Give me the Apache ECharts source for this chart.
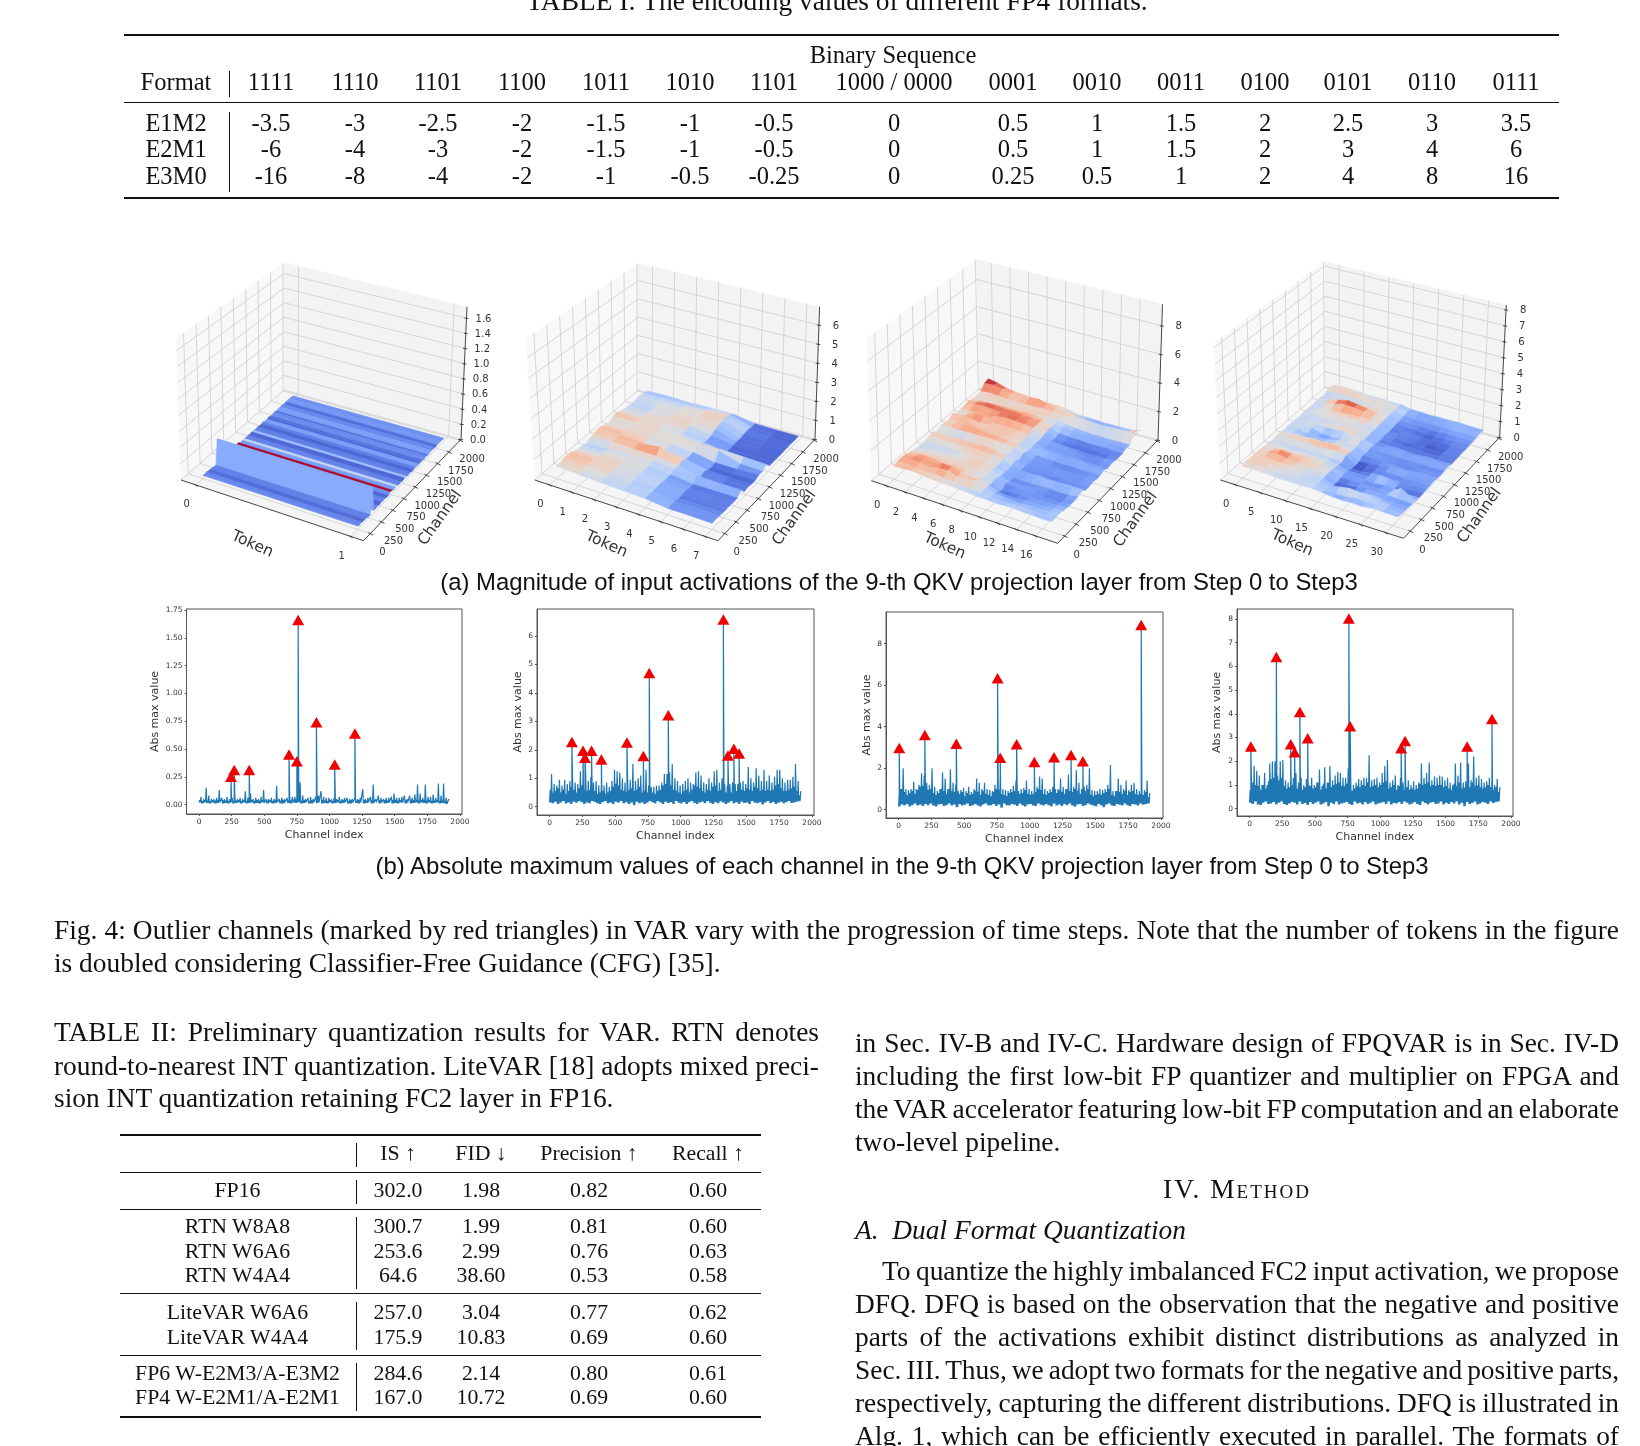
<!DOCTYPE html>
<html><head><meta charset="utf-8">
<style>
html,body{margin:0;padding:0;background:#fff;width:1640px;height:1446px;overflow:hidden}
#chart{position:absolute;left:0;top:0;width:1640px;height:1446px}
.t{position:absolute;color:#111;font-family:"Liberation Serif",serif;line-height:1.2}
.c{white-space:pre;transform:translate(-50%,-50%)}
.l{white-space:pre;transform:translateY(-50%)}
.r{position:absolute;background:#111}
</style>
<script src="https://cdn.jsdelivr.net/npm/echarts@6/dist/echarts.min.js"></script>
</head><body>
<div id="chart"></div>
<script>
// ---------- text content ----------
const tableTitle = "TABLE I: The encoding values of different FP4 formats.";
const table1Super = "Binary Sequence";
const table1Head = ["Format","1111","1110","1101","1100","1011","1010","1101","1000 / 0000","0001","0010","0011","0100","0101","0110","0111"];
const table1Rows = [
 ["E1M2","-3.5","-3","-2.5","-2","-1.5","-1","-0.5","0","0.5","1","1.5","2","2.5","3","3.5"],
 ["E2M1","-6","-4","-3","-2","-1.5","-1","-0.5","0","0.5","1","1.5","2","3","4","6"],
 ["E3M0","-16","-8","-4","-2","-1","-0.5","-0.25","0","0.25","0.5","1","2","4","8","16"]];
const table2Head = ["","IS ↑","FID ↓","Precision ↑","Recall ↑"];
const table2Rows = [
 ["FP16","302.0","1.98","0.82","0.60"],
 ["RTN W8A8","300.7","1.99","0.81","0.60"],
 ["RTN W6A6","253.6","2.99","0.76","0.63"],
 ["RTN W4A4","64.6","38.60","0.53","0.58"],
 ["LiteVAR W6A6","257.0","3.04","0.77","0.62"],
 ["LiteVAR W4A4","175.9","10.83","0.69","0.60"],
 ["FP6 W-E2M3/A-E3M2","284.6","2.14","0.80","0.61"],
 ["FP4 W-E2M1/A-E2M1","167.0","10.72","0.69","0.60"]];
const captionA = "(a) Magnitude of input activations of the 9-th QKV projection layer from Step 0 to Step3";
const captionB = "(b) Absolute maximum values of each channel in the 9-th QKV projection layer from Step 0 to Step3";
const figLines = ["Fig. 4: Outlier channels (marked by red triangles) in VAR vary with the progression of time steps. Note that the number of tokens in the figure",
 "is doubled considering Classifier-Free Guidance (CFG) [35]."];
const table2Caption = ["TABLE II: Preliminary quantization results for VAR. RTN denotes",
 "round-to-nearest INT quantization. LiteVAR [18] adopts mixed preci-",
 "sion INT quantization retaining FC2 layer in FP16."];
const rightLines = ["in Sec. IV-B and IV-C. Hardware design of FPQVAR is in Sec. IV-D",
 "including the first low-bit FP quantizer and multiplier on FPGA and",
 "the VAR accelerator featuring low-bit FP computation and an elaborate",
 "two-level pipeline."];
const sectionHead = "IV. Method";
const subHead = "A.  Dual Format Quantization";
const paraLines = ["To quantize the highly imbalanced FC2 input activation, we propose",
 "DFQ. DFQ is based on the observation that the negative and positive",
 "parts of the activations exhibit distinct distributions as analyzed in",
 "Sec. III. Thus, we adopt two formats for the negative and positive parts,",
 "respectively, capturing the different distributions. DFQ is illustrated in",
 "Alg. 1, which can be efficiently executed in parallel. The formats of"];

// ---------- line chart values (low / band top / low / peak per 20 channels) ----------
const high1 = [.07,.05,.15,.08,.05,.05,.06,.13,.06,.05,.07,.05,.06,.07,.05,.06,.05,.12,.06,.1,.05,.06,.05,.07,.13,.05,.05,.06,.05,.17,.05,.06,.05,.06,.07,.07,.07,.26,.2,.08,.05,.06,.07,.05,.07,.08,.12,.07,.06,.06,.05,.06,.05,.07,.05,.06,.06,.05,.05,.06,.05,.06,.14,.05,.06,.07,.18,.05,.08,.06,.05,.06,.06,.07,.1,.06,.06,.07,.08,.05,.08,.06,.09,.18,.1,.06,.18,.07,.07,.09,.06,.19,.08,.19,.06,.05];
const low1 = [.02,.01,.02,.015,.01,.02,.01,.015,.02,.01,.015,.01,.02,.01,.015,.02,.01,.02,.01,.015,.02,.01,.015,.01,.02,.015,.01,.02,.01,.015,.02,.01,.01,.02,.015,.01,.02,.015,.02,.01,.015,.02,.01,.01,.02,.015,.02,.01,.015,.01,.02,.01,.015,.02,.01,.015,.02,.01,.01,.02,.015,.01,.02,.01,.015,.02,.01,.015,.02,.01,.02,.01,.015,.02,.01,.015,.01,.02,.015,.01,.02,.01,.015,.02,.01,.02,.015,.01,.02,.01,.015,.02,.01,.015,.01,.005];
const mid1 = [.04,.03,.04,.035,.03,.04,.035,.04,.03,.04,.035,.03,.04,.03,.035,.04,.03,.04,.03,.035,.04,.03,.04,.035,.04,.03,.035,.04,.03,.04,.03,.035,.04,.03,.04,.035,.045,.05,.04,.03,.04,.035,.03,.04,.035,.04,.03,.04,.035,.03,.04,.03,.035,.04,.03,.04,.035,.03,.04,.03,.035,.04,.03,.04,.035,.03,.04,.03,.035,.04,.03,.04,.035,.03,.04,.04,.035,.04,.03,.04,.035,.045,.04,.04,.035,.04,.04,.035,.04,.03,.035,.04,.03,.035,.03,.02];
const high2 = [1.15,.8,.75,.95,.75,.95,.8,.9,1.0,.85,.8,1.25,1.0,1.2,.9,1.05,.85,.9,.75,.8,.75,.85,.7,.9,1.3,1.25,1.2,1.0,.85,.9,.95,1.5,.9,1.0,1.1,.85,1.3,.75,.7,.7,.75,.75,.85,1.15,1.15,1.2,1.5,1.0,.9,.75,.8,.9,1.0,.85,.8,1.2,1.25,1.1,.85,.8,1.0,.85,1.25,1.3,.85,1.0,.8,.75,.8,.85,.8,.8,.85,.9,.8,1.4,1.0,.85,1.35,1.1,.9,1.3,.9,1.1,.85,1.05,1.3,1.3,1.0,.85,.95,.95,1.05,1.5,.9,.55];
const low2 = [.15,.12,.18,.1,.15,.2,.12,.15,.1,.18,.14,.2,.16,.1,.15,.12,.2,.17,.12,.1,.16,.2,.12,.15,.1,.18,.14,.2,.12,.16,.1,.15,.05,.18,.12,.15,.1,.14,.2,.16,.12,.2,.15,.1,.18,.13,.16,.1,.2,.14,.12,.17,.1,.16,.2,.13,.1,.15,.18,.12,.2,.14,.1,.16,.12,.19,.15,.1,.14,.2,.12,.16,.1,.18,.13,.15,.1,.2,.14,.12,.16,.08,.15,.2,.12,.17,.1,.14,.18,.12,.16,.2,.13,.15,.18,.2];
const mid2 = [.6,.5,.55,.65,.5,.6,.45,.55,.7,.6,.5,.65,.75,.6,.55,.6,.5,.55,.45,.5,.55,.45,.5,.55,.7,.8,.75,.6,.55,.5,.6,.65,.55,.6,.7,.5,.55,.5,.45,.5,.45,.55,.6,.75,.8,.7,.75,.6,.55,.5,.45,.55,.6,.5,.6,.75,.7,.65,.55,.5,.6,.55,.7,.75,.55,.6,.5,.5,.55,.5,.45,.55,.5,.6,.55,.65,.6,.55,.7,.65,.55,.6,.55,.6,.55,.6,.75,.8,.65,.55,.55,.6,.65,.7,.55,.4];
const high3 = [1.0,2.0,1.0,.95,1.0,1.35,1.0,1.2,1.75,1.65,1.3,1.2,2.0,1.1,.9,1.0,1.8,1.5,1.0,1.95,1.3,1.2,.9,.95,1.05,.9,1.1,.85,1.0,1.5,1.3,1.0,1.3,1.0,.95,.9,1.2,1.55,1.5,1.0,.95,.9,1.0,1.15,1.4,.9,1.0,1.05,1.4,1.0,.9,1.0,1.1,1.6,1.5,1.0,.9,1.0,1.1,1.0,1.0,1.5,1.1,1.0,1.7,1.25,1.1,1.9,1.3,1.0,1.1,1.2,2.0,.95,.9,.9,1.0,.95,1.0,1.2,2.15,.9,.9,1.5,1.2,1.0,1.4,.95,1.2,1.3,1.0,.9,1.0,.95,1.4,.8];
const low3 = [.15,.25,.2,.28,.15,.22,.3,.2,.25,.18,.28,.22,.3,.2,.15,.25,.28,.18,.22,.3,.2,.25,.12,.28,.2,.24,.3,.18,.22,.28,.2,.15,.25,.3,.2,.22,.28,.18,.25,.1,.3,.22,.2,.28,.24,.18,.3,.22,.15,.25,.28,.2,.18,.3,.24,.2,.28,.22,.15,.3,.2,.25,.18,.28,.22,.3,.2,.14,.25,.28,.18,.22,.3,.24,.2,.15,.28,.22,.12,.25,.3,.2,.18,.28,.24,.2,.3,.22,.18,.28,.25,.2,.3,.24,.28,.3];
const mid3 = [.8,1.0,.85,.7,.8,.9,.75,.95,1.1,1.15,.9,.95,1.0,.8,.7,.8,1.0,.9,.75,1.0,.9,.85,.7,.75,.85,.65,.8,.7,.75,.9,.85,.7,.9,.75,.7,.65,.85,1.0,.95,.75,.7,.65,.8,.85,.9,.7,.75,.8,.95,.75,.7,.75,.85,1.0,.95,.75,.7,.8,.85,.75,.8,.95,.85,.75,1.0,.9,.85,1.0,.9,.75,.85,.9,1.0,.7,.65,.7,.75,.7,.8,.85,1.0,.7,.65,.9,.85,.75,.9,.7,.85,.9,.75,.7,.75,.7,.85,.6];
const high4 = [.9,1.8,1.6,1.4,1.0,1.5,1.0,1.9,2.0,2.0,1.4,2.0,2.05,1.2,1.1,1.25,1.3,1.5,1.1,1.3,1.0,1.25,1.0,1.3,1.0,1.1,1.65,.95,1.75,1.1,1.8,1.2,1.4,1.55,1.5,1.3,1.3,1.7,1.0,1.0,1.1,1.25,1.2,1.3,1.3,2.25,1.2,1.25,1.3,1.1,1.5,1.8,2.05,1.1,1.2,1.4,1.0,1.3,1.1,1.0,1.2,1.0,1.15,1.0,1.1,1.9,1.3,1.5,1.95,1.2,1.35,1.3,1.4,1.35,1.2,1.3,1.1,1.0,1.9,1.4,1.95,1.1,1.15,1.9,1.2,2.2,1.3,1.4,1.25,1.1,1.15,1.3,1.25,1.0,1.25,.9];
const low4 = [.25,.2,.3,.18,.15,.25,.3,.2,.22,.28,.18,.25,.3,.2,.15,.22,.28,.25,.18,.3,.2,.24,.15,.28,.2,.25,.3,.18,.22,.28,.1,.25,.2,.3,.18,.22,.25,.28,.2,.15,.3,.22,.25,.18,.28,.2,.24,.3,.18,.22,.25,.28,.2,.3,.18,.24,.22,.28,.2,.3,.25,.18,.22,.28,.2,.15,.3,.24,.18,.25,.28,.2,.22,.3,.18,.25,.2,.28,.22,.3,.18,.25,.1,.28,.2,.24,.3,.18,.22,.28,.25,.2,.3,.24,.28,.3];
const mid4 = [.8,1.1,1.0,.95,.8,1.0,.85,1.15,1.25,1.3,1.1,1.2,1.3,.95,.85,.9,1.0,1.1,.85,.95,.8,.9,.8,.95,.85,.9,1.1,.8,1.05,.85,1.1,.9,1.0,1.05,1.1,.95,.95,1.05,.8,.75,.85,.95,.9,1.0,.95,1.1,.9,.95,1.0,.9,1.0,1.1,1.15,.85,.9,1.0,.8,.95,.85,.8,.9,.8,.85,.8,.85,1.05,1.0,1.05,1.1,.95,1.0,.95,1.0,1.0,.9,.95,.85,.8,1.05,.95,1.1,.85,.9,1.05,.9,1.1,.95,1.0,.9,.85,.9,1.0,.9,.8,.9,.7];
const outliers1 = [[245,.25],[270,.31],[385,.31],[690,.45],[750,.39],[760,1.66],[900,.74],[1040,.36],[1195,.64]];
const outliers2 = [[170,2.28],[255,1.97],[270,1.72],[320,1.97],[395,1.66],[590,2.26],[715,1.78],[760,4.7],[905,3.22],[1325,6.58],[1360,1.8],[1405,2.04],[1445,1.87]];
const outliers3 = [[5,2.97],[200,3.6],[440,3.17],[755,6.33],[775,2.5],[900,3.15],[1035,2.3],[1185,2.53],[1315,2.63],[1405,2.33],[1850,8.9]];
const outliers4 = [[10,2.62],[205,6.4],[315,2.72],[345,2.38],[385,4.08],[445,2.97],[760,8.02],[770,3.48],[1160,2.55],[1190,2.85],[1665,2.62],[1855,3.78]];
const xTicks2d = [0,250,500,750,1000,1250,1500,1750,2000];
const yTicks1 = [0,.25,.5,.75,1,1.25,1.5,1.75];
const yTicks2 = [0,1,2,3,4,5,6];
const yTicks3 = [0,2,4,6,8];
const yTicks4 = [0,1,2,3,4,5,6,7,8];

// ---------- surface values: row = channel 0,80,...,1920 ; column = token ----------
const surfChannels = [0,80,160,240,320,400,480,560,640,720,800,880,960,1040,1120,1200,1280,1360,1440,1520,1600,1680,1760,1840,1920];
const surf1Channels = [0,40,80,120,160,200,240,280,320,360,400,440,480,520,560,600,640,680,720,760,800,840,880,920,960,1000,1040,1080,1120,1160,1200,1240,1280,1320,1360,1400,1440,1480,1520,1560,1600,1640,1680,1720,1760,1800,1840,1880,1920];
const surf1Heights = [.04,.03,.04,.03,.03,.03,.02,.02,.33,.03,.03,.04,.03,.04,.03,.04,.03,.03,.05,.05,.03,.04,.04,.03,.04,.03,.04,.04,.03,.04,.03,.03,.04,.03,.03,.04,.03,.03,.04,.03,.04,.04,.04,.03,.04,.04,.04,.04,.03];
const surf1Levels = [.14,.14,.07,.07,.12,.12,.12,.24,.22,.13,.13,.06,.06,.13,.13,.06,.06,.16,1.0,.16,.2,.42,.13,.13,.06,.06,.3,.12,.12,.06,.06,.12,.2,.2,.08,.08,.15,.15,.07,.2,.2,.14,.14,.08,.18,.18,.16,.16];
const surf2Tokens = [0,1,2,3,4,5,6,7];
const surf2 = [
[1.2,1.0,.9,.8,.7,.4,.4,.35],[1.1,1.0,.9,.8,.8,.4,.4,.4],[1.3,1.2,1.0,.8,.7,.35,.4,.35],[1.3,1.25,1.1,.85,.7,.3,.3,.3],[1.25,1.3,1.0,.9,.8,.25,.2,.3],
[1.0,1.2,1.1,.9,.6,.4,.35,.3],[.9,1.0,1.15,.9,.7,.2,.25,.25],[.8,.9,1.1,.8,.6,.3,.3,.3],[.7,.8,1.0,1.0,.9,.9,.8,.8],[1.0,1.3,1.2,1.2,.8,.25,.2,.2],
[1.1,1.2,1.5,1.9,1.0,.5,.3,.3],[1.3,1.4,1.2,1.0,.8,.25,.15,.2],[1.2,1.3,1.0,.9,.7,.15,.15,.2],[1.0,1.2,1.1,1.0,.8,.3,.3,.4],[.8,1.0,1.1,1.0,1.3,1.4,.5,.4],
[1.2,1.3,1.0,1.1,.9,1.0,.9,.8],[1.3,1.2,1.0,.9,.7,.25,.2,.2],[1.0,1.0,1.2,.9,.6,.2,.15,.2],[.9,1.0,1.2,1.1,.7,.2,.2,.2],[.8,.9,1.1,1.2,1.0,.25,.2,.15],
[.7,.9,1.0,1.1,1.1,.2,.2,.2],[.8,1.0,1.1,1.0,1.2,.3,.2,.2],[.9,.9,.9,1.2,1.3,.35,.2,.2],[.7,.8,.8,.9,1.1,.25,.15,.15],[.6,.7,.6,.7,.7,.25,.2,.2]];
const surf3Tokens = [0,1,2,3,4,5,6,7,8,9,10,11,12,13,14,15,16,17];
const surf3 = [
[1.7,1.8,1.9,1.7,1.6,1.5,1.5,1.4,1.3,1.2,1.2,1.1,1.2,1.2,1.1,1.1,1.0,1.1],
[1.9,2.0,1.8,1.7,1.8,1.6,1.5,1.4,1.3,1.2,1.1,1.0,1.0,1.1,1.1,1.0,1.0,1.1],
[2.0,2.2,2.1,1.9,2.2,2.3,1.7,1.9,2.1,1.3,1.0,.9,.8,.8,.9,.9,1.0,1.2],
[1.9,2.1,2.3,2.0,2.4,2.3,1.8,1.7,1.6,1.2,.7,.5,.6,.7,.8,.7,.9,1.0],
[1.7,1.9,2.0,1.8,1.7,1.8,1.6,1.5,1.4,1.2,.3,.4,.6,.6,.7,.7,.8,.9],
[1.5,1.6,1.6,1.7,1.6,1.7,1.7,1.6,1.4,1.3,.9,.8,.8,.7,.6,.6,.6,.8],
[1.4,1.4,1.5,1.5,1.6,1.6,1.8,1.7,1.5,1.0,.6,.6,.7,.6,.7,.4,.6,.8],
[1.3,1.3,1.4,1.4,1.4,1.5,1.7,1.7,1.4,.9,.7,.6,.6,.7,.7,.6,.7,.9],
[1.4,1.5,1.3,1.3,1.5,1.6,1.6,1.5,1.3,.8,.8,1.0,1.1,1.2,1.1,1.1,1.2,1.2],
[1.6,1.7,1.6,1.7,1.7,1.9,1.8,1.8,1.5,1.0,.7,.6,.7,.6,.6,.7,.7,.7],
[1.7,1.8,1.8,1.9,1.9,1.9,2.0,1.8,1.6,1.2,.7,.6,.6,.5,.6,.6,.5,.7],
[1.3,1.2,.9,1.0,1.3,1.4,1.2,1.1,1.3,.8,.7,.7,.7,.8,.8,.7,.8,.8],
[1.7,1.8,1.8,1.9,1.9,2.0,2.0,1.9,1.7,1.2,.6,.7,.6,.5,.5,.6,.6,.7],
[1.6,1.9,2.1,2.2,2.1,2.0,1.9,1.8,1.6,1.0,.8,.7,.7,.6,.7,.6,.7,.7],
[1.5,1.7,1.8,1.7,1.6,1.7,1.7,1.5,1.4,.9,1.1,1.1,1.0,.9,1.0,1.0,.9,1.0],
[2.0,2.1,2.0,1.8,1.9,2.0,1.9,2.0,1.7,1.0,.6,.6,.5,.6,.6,.5,.5,.6],
[1.4,1.5,2.4,2.3,1.7,1.6,1.7,1.6,1.5,.9,.8,.9,.9,.8,.7,.7,.8,.8],
[1.6,1.8,1.7,1.6,2.2,2.4,2.3,2.2,2.1,1.0,.7,.6,.5,.5,.4,.5,.5,.7],
[1.7,2.3,2.5,2.4,2.3,2.4,2.4,2.2,2.0,1.2,.6,.5,.4,.4,.5,.4,.5,.6],
[1.8,2.1,2.4,2.4,2.3,2.3,2.2,2.1,2.1,1.3,.8,.7,.7,.6,.6,.7,.6,.6],
[1.6,1.7,1.7,1.8,1.8,1.8,1.9,1.8,1.5,1.2,1.3,1.1,1.0,1.1,1.0,1.0,.9,.9],
[1.5,1.5,1.6,1.6,1.5,1.7,1.5,1.6,1.5,1.5,1.1,.9,.8,.7,.7,.7,.8,.8],
[1.7,1.9,1.8,1.7,1.6,1.7,1.8,1.9,1.8,1.6,1.9,2.0,2.0,1.9,1.9,2.0,2.1,2.2],
[2.6,2.7,2.4,2.1,1.9,2.3,2.5,2.1,1.9,1.6,1.7,1.0,1.0,.9,1.1,1.0,1.2,2.1],
[2.8,2.5,2.0,1.8,1.7,1.6,1.5,1.5,1.5,1.3,.9,.9,.9,.8,.9,.9,1.0,1.3]];
const surf4Tokens = [0,2,4,6,8,10,12,14,16,18,20,22,24,26,28,31];
const surf4 = [
[1.6,1.7,1.6,1.5,1.4,1.5,1.4,1.5,1.3,1.1,1.0,1.1,1.0,1.3,1.2,1.1],
[1.9,1.8,1.7,1.5,1.6,1.4,1.5,1.4,1.0,.9,1.0,1.2,1.1,1.4,1.2,1.0],
[1.8,2.0,1.9,1.7,1.5,1.6,1.3,1.4,1.1,1.6,1.9,1.7,1.5,1.3,1.1,.9],
[1.7,1.9,1.8,1.9,1.8,1.5,1.4,1.4,.6,.4,.5,.9,1.0,.9,.8,.9],
[1.8,2.0,2.5,2.2,1.9,1.6,1.7,1.5,.5,.5,.7,1.0,.9,1.0,.9,.8],
[1.7,1.8,2.6,2.3,1.9,2.0,1.8,1.5,.7,.8,.9,.7,.8,.9,2.2,.7],
[1.6,1.7,1.8,1.7,1.9,1.7,1.5,1.3,.9,.9,.8,.7,.9,.9,.4,.6],
[1.5,1.7,1.4,1.5,1.6,1.5,1.6,1.2,.7,.7,.7,1.5,1.4,.8,.6,.7],
[1.4,1.5,1.3,1.4,1.2,1.3,1.2,1.1,.4,.4,.7,.8,.6,.8,.7,.8],
[1.6,1.8,1.7,1.9,1.8,1.9,2.0,1.7,.3,.4,.5,.7,.8,.7,.8,.8],
[1.6,1.8,1.9,2.0,2.1,2.2,2.1,1.6,.4,.5,.8,.9,1.2,1.0,.9,.9],
[1.3,1.2,1.1,1.3,1.2,1.5,1.6,1.4,.9,.8,.7,.8,.6,.7,.9,.8],
[1.5,1.5,1.0,.9,1.0,1.4,1.5,1.3,.7,.8,.8,.7,.8,.7,.7,.7],
[1.3,1.6,1.5,.9,.8,1.0,1.8,1.9,1.0,.7,.8,.7,.7,.8,.7,.8],
[1.4,1.5,1.6,1.5,1.6,1.8,1.4,1.3,.8,.9,1.1,1.0,1.1,1.0,1.1,1.0],
[1.2,1.5,1.4,1.7,1.9,1.8,2.0,1.4,.7,.6,.7,.6,.5,.7,.6,.7],
[1.5,1.6,1.4,1.4,1.2,1.3,1.5,1.5,.6,.7,.5,.6,.6,.5,.5,.7],
[1.4,1.7,1.9,2.0,2.1,1.9,1.6,1.4,.8,.7,.4,.5,.4,.4,.6,.7],
[1.3,1.5,1.5,1.7,1.8,1.9,1.9,1.5,.6,.7,.8,.7,.5,.4,.5,.8],
[1.4,1.6,2.2,2.7,2.6,2.3,2.0,1.5,.7,.5,.6,.4,.5,.6,.6,.7],
[1.5,1.7,2.3,2.8,2.5,2.2,1.8,1.5,.8,.7,.7,.5,.5,.6,.7,.8],
[1.2,1.3,1.2,1.3,1.5,1.7,1.6,1.5,.8,.7,.8,.6,.7,.8,.8,.8],
[1.6,1.7,1.8,1.7,1.6,1.7,1.6,1.6,1.0,.9,.8,.9,.9,.9,1.0,.9],
[1.8,2.0,1.9,1.9,1.7,1.8,1.7,1.6,1.1,1.0,.9,1.0,1.0,1.1,1.1,1.0],
[1.4,1.6,1.5,1.4,1.3,1.4,1.3,1.3,.9,.9,.8,.9,.9,1.0,.9,.9]];
const channelTicks = [0,250,500,750,1000,1250,1500,1750,2000];
const tokenTicks1 = [0,1], tokenTicks2 = [0,1,2,3,4,5,6,7], tokenTicks3 = [0,2,4,6,8,10,12,14,16], tokenTicks4 = [0,5,10,15,20,25,30];
const zTicks1 = [0,.2,.4,.6,.8,1,1.2,1.4,1.6], zTicks2 = [0,1,2,3,4,5,6], zTicks3 = [0,2,4,6,8], zTicks4 = [0,1,2,3,4,5,6,7,8];

// ---------- page text layout ----------
const sans = '"Liberation Sans",sans-serif';
function put(cls, text, x, y, size, extra){
  const d = document.createElement('div');
  d.className = 't ' + cls; d.textContent = text;
  d.style.left = x + 'px'; d.style.top = y + 'px'; d.style.fontSize = size + 'px';
  Object.assign(d.style, extra || {});
  document.body.appendChild(d); return d;
}
function rule(x, y, w, h){
  const d = document.createElement('div'); d.className = 'r';
  d.style.cssText = `left:${x}px;top:${y}px;width:${w}px;height:${h}px`;
  document.body.appendChild(d);
}
// one full-measure line: word spacing is set so the line ends exactly at the column edge
function justify(text, x, y, w, size){
  const d = put('l', text, x, y, size);
  const spaces = (text.match(/ /g) || []).length;
  d.style.wordSpacing = ((w - d.getBoundingClientRect().width) / spaces) + 'px';
  return d;
}

const PROSE = 27.4;
put('c', tableTitle, 837, 1, PROSE);
rule(124, 33.5, 1435, 2.2); rule(124, 102, 1435, 1.4); rule(124, 196.5, 1435, 2.2);
rule(228.5, 71, 1.3, 26); rule(228.5, 112, 1.3, 80);
const t1X = [176,271,355,438,522,606,690,774,894,1013,1097,1181,1265,1348,1432,1516];
const t1Y = [123,149,176];
put('c', table1Super, 893, 55, 24.5);
table1Head.forEach((s,i)=>put('c', s, t1X[i], 82, 24.5));
table1Rows.forEach((r,j)=>r.forEach((s,i)=>put('c', s, t1X[i], t1Y[j], 24.5)));

put('c', captionA, 899, 581.5, 23.9, {fontFamily: sans});
put('c', captionB, 902, 866, 23.9, {fontFamily: sans});

justify(figLines[0], 54, 930, 1565, PROSE);
put('l', figLines[1], 54, 963, PROSE);
justify(table2Caption[0], 54, 1032, 765, PROSE);
justify(table2Caption[1], 54, 1065.5, 765, PROSE);
put('l', table2Caption[2], 54, 1098, PROSE);
justify(rightLines[0], 855, 1042.5, 764, PROSE);
justify(rightLines[1], 855, 1075.5, 764, PROSE);
justify(rightLines[2], 855, 1108.5, 764, PROSE);
put('l', rightLines[3], 855, 1141.5, PROSE);
put('c', sectionHead, 1237, 1188.5, PROSE, {fontVariant: 'small-caps', letterSpacing: '2px'});
put('l', subHead, 855, 1229.5, PROSE, {fontStyle: 'italic'});
const paraY = [1270.5,1303.5,1336.5,1369.5,1402.5,1435.5];
paraLines.forEach((s,i)=>justify(s, i===0?882:855, paraY[i], i===0?737:764, PROSE));

[[1134,2.2],[1171.5,1.3],[1208.5,1.3],[1293,1.3],[1354.5,1.3],[1415.5,2.2]].forEach(r=>rule(120,r[0],641,r[1]));
[[1143,24],[1180,24],[1217,72],[1302,48],[1363,48]].forEach(v=>rule(356,v[0],1.3,v[1]));
const t2X = [237.5,398,481,589,708];
const t2Y = [1190,1226,1251,1275,1312,1337,1373,1397];
table2Head.forEach((s,i)=>{ if(s) put('c', s, t2X[i], 1153, 21.8); });
table2Rows.forEach((r,j)=>r.forEach((s,i)=>put('c', s, t2X[i], t2Y[j], 21.8)));

// ---------- coolwarm colour scale ----------
const coolwarm = ['#3b4cc0','#5977e3','#7b9ff9','#9ebeff','#c0d4f5','#dddcdc','#f2cbb7','#f7ac8e','#ee8468','#d65244','#b40426'];
function cw(n){
  n = Math.max(0, Math.min(1, n)) * 10;
  const i = Math.min(9, Math.floor(n)), f = n - i;
  const h = s => [1,3,5].map(k => parseInt(s.substr(k,2),16));
  const a = h(coolwarm[i]), b = h(coolwarm[i+1]);
  return `rgb(${a.map((v,k)=>Math.round(v+(b[k]-v)*f)).join(',')})`;
}

// ---------- 3D box panels: screen corners of each axes box ----------
const box3d = [
 {A:[181,480],B:[363.5,540.7],C:[461,439.3],D:[284,390],A2:[176,338.3],B2:[367,391],C2:[467,306.7],D2:[284,262.7],
  tMax:1, zMax:1.75, tTicks:tokenTicks1, zTicks:zTicks1, zFmt:v=>v.toFixed(1), reliefBase:0, reliefScale:1},
 {A:[534.8,480],B:[718,540.7],C:[815,439.3],D:[638,390],A2:[526,338.3],B2:[722,391],C2:[819.6,306.7],D2:[638,263.3],
  tMax:7, zMax:6.96, tTicks:tokenTicks2, zTicks:zTicks2, zFmt:v=>String(v), reliefBase:.15, reliefScale:.4},
 {A:[871.4,480.7],B:[1057.6,543.3],C:[1158,440],D:[979.5,388.3],A2:[867,338.3],B2:[1061,390],C2:[1162.5,304.3],D2:[976.3,259.3],
  tMax:17, zMax:9.5, tTicks:tokenTicks3, zTicks:zTicks3, zFmt:v=>String(v), reliefBase:.2, reliefScale:.4},
 {A:[1220.5,480],B:[1403.6,538.3],C:[1499.6,437.3],D:[1325.4,386.7],A2:[1213.8,342.7],B2:[1408,392],C2:[1506.3,305],D2:[1324.6,261.7],
  tMax:31, zMax:8.3, tTicks:tokenTicks4, zTicks:zTicks4, zFmt:v=>String(v), reliefBase:.25, reliefScale:.3}];
function boxPt(p,u,v,w){
  const q=(a,b,c,d)=>a*(1-u)*(1-v)+b*u*(1-v)+c*u*v+d*(1-u)*v;
  const lo=[q(p.A[0],p.B[0],p.C[0],p.D[0]),q(p.A[1],p.B[1],p.C[1],p.D[1])];
  const hi=[q(p.A2[0],p.B2[0],p.C2[0],p.D2[0]),q(p.A2[1],p.B2[1],p.C2[1],p.D2[1])];
  return [lo[0]+(hi[0]-lo[0])*w, lo[1]+(hi[1]-lo[1])*w];
}
const uOf=(p,t)=>.08+.85*t/p.tMax, vOf=ch=>.07+.92*ch/2000, wOf=(p,z)=>z/p.zMax;
const project=(p,t,ch,z)=>boxPt(p,uOf(p,t),vOf(ch),wOf(p,p.reliefBase+p.reliefScale*z));

function frameSeries(p){
  return {type:'custom',coordinateSystem:'none',silent:true,z:1,data:[[0]],renderItem(){
    const ch=[];
    const poly=(pts,fill)=>ch.push({type:'polygon',shape:{points:pts},style:{fill,stroke:fill,lineWidth:.5}});
    const line=(a,b,col,w)=>ch.push({type:'line',shape:{x1:a[0],y1:a[1],x2:b[0],y2:b[1]},style:{stroke:col,lineWidth:w}});
    const txt=(s,pos,size,rot)=>ch.push({type:'text',x:pos[0],y:pos[1],rotation:rot||0,style:{text:s,x:0,y:0,fill:'#333',font:`${size}px "DejaVu Sans",sans-serif`,align:'center',verticalAlign:'middle',textAlign:'center',textVerticalAlign:'middle'}});
    poly([p.A,p.D,p.D2,p.A2],'#f8f8f8');
    poly([p.D,p.C,p.C2,p.D2],'#f3f3f3');
    poly([p.A,p.B,p.C,p.D],'#f5f5f5');
    const gc='#cdcdcd';
    p.tTicks.forEach(t=>{const u=uOf(p,t);
      line(boxPt(p,u,0,0),boxPt(p,u,1,0),gc,.8); line(boxPt(p,u,1,0),boxPt(p,u,1,1),gc,.8);
      const e=boxPt(p,u,0,0); line([e[0]-2,e[1]-1],[e[0]+2,e[1]+1.5],'#333',.9);
      txt(String(t),[e[0]-9,e[1]+20],10);});
    channelTicks.forEach(c=>{const v=vOf(c);
      line(boxPt(p,0,v,0),boxPt(p,1,v,0),gc,.8); line(boxPt(p,0,v,0),boxPt(p,0,v,1),gc,.8);
      const e=boxPt(p,1,v,0); line([e[0]-2,e[1]-1],[e[0]+3,e[1]+1.5],'#333',.9);
      txt(String(c),[e[0]+12,e[1]+19],10);});
    p.zTicks.forEach(z=>{const w=wOf(p,z);
      line(boxPt(p,0,0,w),boxPt(p,0,1,w),gc,.8); line(boxPt(p,0,1,w),boxPt(p,1,1,w),gc,.8);
      const e=boxPt(p,1,1,w); line([e[0]-2,e[1]],[e[0]+2,e[1]+.5],'#333',.9);
      txt(p.zFmt(z),[e[0]+17,e[1]+1],10);});
    line(p.A,p.B,'#333',.9); line(p.B,p.C,'#333',.9); line(p.C,p.C2,'#333',.9);
    const tm=boxPt(p,.5,0,0), cm=boxPt(p,1,.5,0);
    txt('Token',[tm[0]-20,tm[1]+34],15.5,-.42);
    txt('Channel',[cm[0]+28,cm[1]+28],15.5,.95);
    return {type:'group',children:ch};
  }};
}
function surfaceSeries(idx, tokens, channels, matrix, colorOf){
  const p = box3d[idx], data = [];
  for(let r=channels.length-2;r>=0;r--) for(let c=0;c<tokens.length-1;c++)
    data.push([tokens[c],tokens[c+1],channels[r],channels[r+1],matrix[r][c],matrix[r][c+1],matrix[r+1][c],matrix[r+1][c+1],colorOf(r,c,matrix)]);
  return {type:'custom',coordinateSystem:'none',silent:true,z:2,data,renderItem(_,api){
    const t0=api.value(0),t1=api.value(1),c0=api.value(2),c1=api.value(3);
    const pts=[project(p,t0,c0,api.value(4)),project(p,t1,c0,api.value(5)),project(p,t1,c1,api.value(7)),project(p,t0,c1,api.value(6))];
    const col=cw(api.value(8));
    return {type:'polygon',shape:{points:pts},style:{fill:col,stroke:col,lineWidth:.6}};
  }};
}
const meanNorm = (vmin,vmax) => (r,c,m)=>((m[r][c]+m[r][c+1]+m[r+1][c]+m[r+1][c+1])/4-vmin)/(vmax-vmin);
// ---------- 2D panels ----------
function buildLine(low,mid,high,outliers){
  const pts=[];
  high.forEach((h,i)=>{
    pts.push([i*20,low[i]]); pts.push([i*20+5,mid[i]]);
    pts.push([i*20+10,low[i]]); pts.push([i*20+15,h]);
  });
  outliers.forEach(o=>pts.push(o));
  return pts.sort((a,b)=>a[0]-b[0]);
}
const grids2d = [
 {left:186.5,top:609,width:275.5,height:205,yMin:-.085,yMax:1.76,yTicks:yTicks1,fmt:v=>v.toFixed(2),low:low1,mid:mid1,high:high1,out:outliers1,gap:26},
 {left:537,top:609,width:277,height:206,yMin:-.29,yMax:6.95,yTicks:yTicks2,fmt:v=>String(v),low:low2,mid:mid2,high:high2,out:outliers2,gap:13},
 {left:886,top:612,width:277,height:206,yMin:-.4,yMax:9.52,yTicks:yTicks3,fmt:v=>String(v),low:low3,mid:mid3,high:high3,out:outliers3,gap:13},
 {left:1237,top:609,width:276,height:207,yMin:-.31,yMax:8.42,yTicks:yTicks4,fmt:v=>String(v),low:low4,mid:mid4,high:high4,out:outliers4,gap:14}];
const axisFont={fontFamily:'"DejaVu Sans",sans-serif',color:'#333'};
const option={animation:false,backgroundColor:'transparent',
 grid:grids2d.map(g=>({left:g.left,top:g.top,width:g.width,height:g.height,show:true,borderColor:'#555',borderWidth:1,containLabel:false,backgroundColor:'transparent'})),
 xAxis:grids2d.map((g,i)=>({type:'value',gridIndex:i,min:-96,max:2016,splitLine:{show:false},
   axisLine:{show:true,onZero:false,lineStyle:{color:'#555',width:1}},
   axisTick:{show:true,length:2,customValues:xTicks2d,lineStyle:{color:'#555'}},
   axisLabel:{customValues:xTicks2d,fontSize:7.5,margin:4,formatter:v=>String(v),...axisFont},
   name:'Channel index',nameLocation:'middle',nameGap:16,nameTextStyle:{fontSize:11,...axisFont}})),
 yAxis:grids2d.map((g,i)=>({type:'value',gridIndex:i,min:g.yMin,max:g.yMax,splitLine:{show:false},
   axisLine:{show:true,onZero:false,lineStyle:{color:'#555',width:1}},
   axisTick:{show:true,length:2,customValues:g.yTicks,lineStyle:{color:'#555'}},
   axisLabel:{customValues:g.yTicks,fontSize:7.5,margin:4,formatter:g.fmt,...axisFont},
   name:'Abs max value',nameLocation:'middle',nameGap:g.gap,nameTextStyle:{fontSize:11,...axisFont}})),
 series:[
  ...box3d.map(frameSeries),
  surfaceSeries(0,[0,1],surf1Channels,surf1Channels.map((_,r)=>[surf1Heights[r],surf1Heights[r]]),(r)=>surf1Levels[r]),
  surfaceSeries(1,surf2Tokens,surfChannels,surf2,meanNorm(.05,2.0)),
  surfaceSeries(2,surf3Tokens,surfChannels,surf3,meanNorm(.2,2.8)),
  surfaceSeries(3,surf4Tokens,surfChannels,surf4,meanNorm(.3,3.0)),
  ...grids2d.map((g,i)=>({type:'line',xAxisIndex:i,yAxisIndex:i,data:buildLine(g.low,g.mid,g.high,g.out),showSymbol:false,silent:true,
     lineStyle:{color:'#1f77b4',width:1.2},itemStyle:{color:'#1f77b4'},z:3})),
  ...grids2d.map((g,i)=>({type:'scatter',xAxisIndex:i,yAxisIndex:i,data:g.out,symbol:'triangle',symbolSize:[12,10.5],silent:true,
     itemStyle:{color:'#f00000',opacity:1},z:4}))
 ]};
const chart=echarts.init(document.getElementById('chart'),null,{renderer:'canvas',width:1640,height:1446});
chart.setOption(option);
</script>
</body></html>
